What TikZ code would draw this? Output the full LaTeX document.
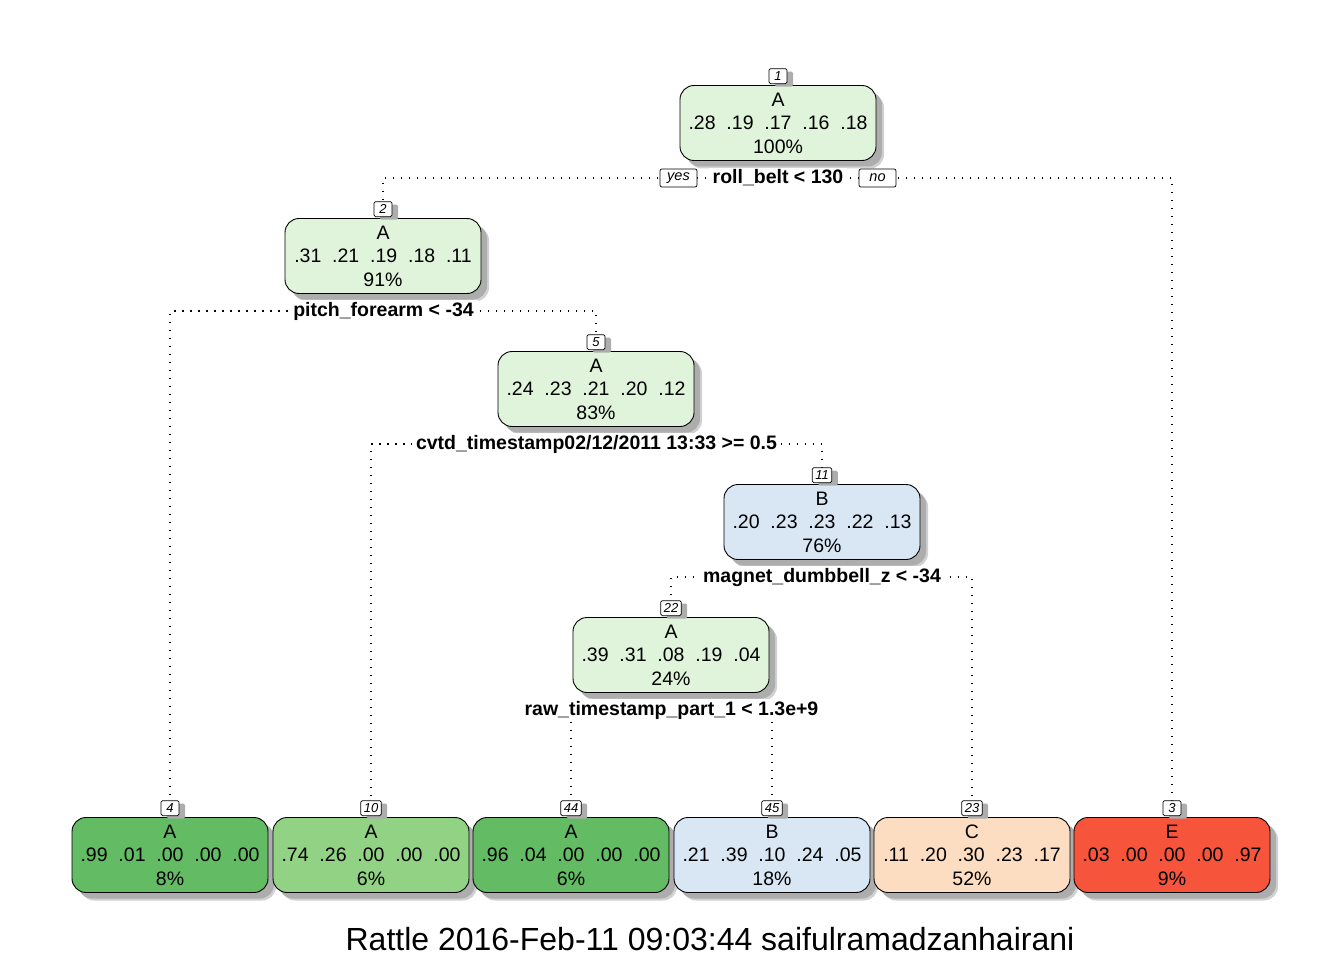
\documentclass[tikz,border=0pt]{standalone}
\usepackage{fontspec}
\setmainfont{Liberation Sans}
\usetikzlibrary{positioning,shadows,backgrounds}
\definecolor{lgreen}{HTML}{E0F3DB}
\definecolor{mgreen}{HTML}{92D284}
\definecolor{dgreen}{HTML}{63BB63}
\definecolor{lblue}{HTML}{D9E7F5}
\definecolor{peach}{HTML}{FDDDC1}
\definecolor{tomato}{HTML}{F6553C}
\newcommand{\probs}[5]{#1\hspace{.556em}#2\hspace{.556em}#3\hspace{.556em}#4\hspace{.556em}#5}
\tikzset{
  tree/.style={draw, line width=0.9pt, rounded corners=14pt, minimum width=196pt,
    minimum height=75pt, align=center, font=\fontsize{19.5}{23.5}\selectfont,
    drop shadow={shadow xshift=8pt, shadow yshift=-8pt, fill=black!18, opacity=1},
    drop shadow={shadow xshift=6pt, shadow yshift=-6pt, fill=black!32, opacity=1}},
  numbox/.style={draw, fill=white, line width=0.7pt, rounded corners=1.5pt,
    minimum width=18pt, minimum height=15pt, inner xsep=3pt, inner ysep=1pt,
    font=\fontsize{13}{15}\selectfont\itshape,
    drop shadow={shadow xshift=6pt, shadow yshift=-3pt, fill=black!32, opacity=1}},
  split/.style={fill=white, inner xsep=4pt, inner ysep=2pt,
    font=\fontsize{19.5}{23.5}\selectfont\bfseries},
  yesno/.style={draw, fill=white, line width=0.7pt, rounded corners=2pt,
    minimum width=37pt, minimum height=18pt, inner sep=1pt,
    font=\fontsize{14.5}{16}\selectfont\itshape},
  edge/.style={line width=1.2pt, dash pattern=on 1.2pt off 6.8pt}
}
\begin{document}
\begin{tikzpicture}[x=1pt, y=-1pt]
  \useasboundingbox (0,0) rectangle (1344,960);
  % inner nodes
  \node[tree, fill=lgreen] (n1) at (778,123) {A\\\probs{.28}{.19}{.17}{.16}{.18}\\100\%};
  \node[tree, fill=lgreen] (n2) at (383,256) {A\\\probs{.31}{.21}{.19}{.18}{.11}\\91\%};
  \node[tree, fill=lgreen] (n5) at (596,389) {A\\\probs{.24}{.23}{.21}{.20}{.12}\\83\%};
  \node[tree, fill=lblue] (n11) at (822,522) {B\\\probs{.20}{.23}{.23}{.22}{.13}\\76\%};
  \node[tree, fill=lgreen] (n22) at (671,655) {A\\\probs{.39}{.31}{.08}{.19}{.04}\\24\%};
  % leaves
  \node[tree, fill=dgreen] (n4) at (170,855) {A\\\probs{.99}{.01}{.00}{.00}{.00}\\8\%};
  \node[tree, fill=mgreen] (n10) at (371,855) {A\\\probs{.74}{.26}{.00}{.00}{.00}\\6\%};
  \node[tree, fill=dgreen] (n44) at (571,855) {A\\\probs{.96}{.04}{.00}{.00}{.00}\\6\%};
  \node[tree, fill=lblue] (n45) at (772,855) {B\\\probs{.21}{.39}{.10}{.24}{.05}\\18\%};
  \node[tree, fill=peach] (n23) at (972,855) {C\\\probs{.11}{.20}{.30}{.23}{.17}\\52\%};
  \node[tree, fill=tomato] (n3) at (1172,855) {E\\\probs{.03}{.00}{.00}{.00}{.97}\\9\%};
  % node numbers
  \foreach \k in {1,2,5,11,22,4,10,44,45,23,3}
    \node[numbox, above=1pt of n\k] (k\k) {\k};
  % splits
  \node[split] (s1) at (778,178) {roll\_belt < 130};
  \node[split] (s2) at (383.5,311) {pitch\_forearm < -34};
  \node[split] (s5) at (596.5,444) {cvtd\_timestamp02/12/2011 13:33 >= 0.5};
  \node[split] (s11) at (822,577) {magnet\_dumbbell\_z < -34};
  \node[split] (s22) at (671.5,710) {raw\_timestamp\_part\_1 < 1.3e+9};
  \node[yesno] (yes) at (678.5,178) {yes};
  \node[yesno] (no) at (877.5,178) {no};
  % connectors
  \begin{scope}[on background layer]
    \draw[edge] (s1.center) -| (k2.north);
    \draw[edge] (s1.center) -| (k3.north);
    \draw[edge] (s2.center) -| (k4.north);
    \draw[edge] (s2.center) -| (k5.north);
    \draw[edge] (s5.center) -| (k10.north);
    \draw[edge] (s5.center) -| (k11.north);
    \draw[edge] (s11.center) -| (k22.north);
    \draw[edge] (s11.center) -| (k23.north);
    \draw[edge] (s22.center) -| (k44.north);
    \draw[edge] (s22.center) -| (k45.north);
  \end{scope}
  \node[font=\fontsize{32}{36}\selectfont] (title) at (710,939) {Rattle 2016-Feb-11 09:03:44 saifulramadzanhairani};
\end{tikzpicture}
\end{document}
